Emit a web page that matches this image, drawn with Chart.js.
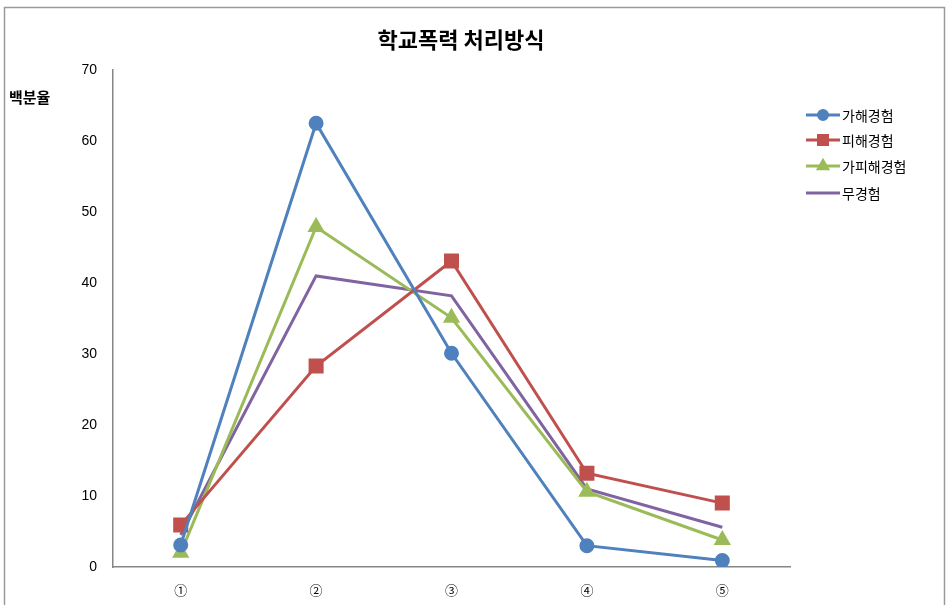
<!DOCTYPE html>
<html>
<head>
<meta charset="utf-8">
<script src="https://cdn.jsdelivr.net/npm/chart.js@4"></script>
<style>
  html, body { margin: 0; padding: 0; background: #fff; }
  #wrap { width: 946px; height: 605px; position: relative; }
</style>
</head>
<body>
<div id="wrap"><canvas id="lineChart"></canvas></div>
<script>
const categories = ['①', '②', '③', '④', '⑤'];
const seriesNames = ['가해경험', '피해경험', '가피해경험', '무경험'];
const gahae = [3.1, 62.5, 30.1, 3.0, 0.9];
const pihae = [5.9, 28.3, 43.1, 13.2, 9.0];
const gapihae = [2.0, 47.9, 35.1, 10.6, 3.8];
const mugyeong = [4.5, 41.0, 38.2, 11.0, 5.6];
const yTicks = [0, 10, 20, 30, 40, 50, 60, 70];

const colors = ['#4F81BD', '#C0504D', '#9BBB59', '#8064A2'];
const markers = ['circle', 'rect', 'triangle', false];
const radii = [6, 8.5, 7, 0];
const values = [gahae, pihae, gapihae, mugyeong];

const datasets = seriesNames.map((name, i) => ({
  label: name,
  data: values[i],
  borderColor: colors[i],
  backgroundColor: colors[i],
  borderWidth: 3,
  pointStyle: markers[i],
  pointRadius: radii[i],
  pointHoverRadius: radii[i],
  tension: 0
}));

const KFONT = '"Noto Sans CJK KR", "Noto Sans", sans-serif';

// frame, title, y-axis caption and legend
const decorPlugin = {
  id: 'decorPlugin',
  afterDraw(chart) {
    const { ctx } = chart;
    ctx.save();
    ctx.strokeStyle = '#9a9a9a';
    ctx.lineWidth = 1.5;
    ctx.beginPath();
    ctx.moveTo(4.5, 605);
    ctx.lineTo(4.5, 7.5);
    ctx.lineTo(944.5, 7.5);
    ctx.lineTo(944.5, 605);
    ctx.stroke();

    ctx.fillStyle = '#000';
    ctx.textAlign = 'center';
    ctx.textBaseline = 'middle';
    ctx.font = 'bold 22px ' + KFONT;
    ctx.fillText('학교폭력 처리방식', 461, 40);

    ctx.textAlign = 'left';
    ctx.font = 'bold 15px ' + KFONT;
    ctx.fillText('백분율', 9, 97);

    ctx.font = '14px ' + KFONT;
    const ys = [115, 140, 166, 193];
    chart.data.datasets.forEach((ds, i) => {
      const y = ys[i];
      ctx.strokeStyle = ds.borderColor;
      ctx.lineWidth = 3;
      ctx.beginPath();
      ctx.moveTo(806, y);
      ctx.lineTo(840, y);
      ctx.stroke();
      if (ds.pointStyle) {
        Chart.helpers.drawPoint(ctx, {
          pointStyle: ds.pointStyle,
          radius: ds.pointRadius * 0.75,
          borderWidth: 1
        }, 823, y);
        ctx.fillStyle = ds.backgroundColor;
        ctx.fill();
      }
      ctx.fillStyle = '#000';
      ctx.fillText(ds.label, 842, y + 1);
    });
    ctx.restore();
  }
};

new Chart(document.getElementById('lineChart'), {
  type: 'line',
  data: { labels: categories, datasets },
  options: {
    responsive: true,
    maintainAspectRatio: false,
    animation: false,
    layout: { padding: { left: 13, top: 70, right: 156, bottom: 0 } },
    plugins: {
      legend: { display: false },
      title: { display: false },
      tooltip: { enabled: false }
    },
    scales: {
      x: {
        offset: true,
        grid: { display: false },
        border: { color: '#868686', width: 1.5 },
        ticks: { color: '#000', font: { size: 13, family: KFONT }, padding: 7 },
        afterFit(s) { s.height = 38; }
      },
      y: {
        min: 0,
        max: 70,
        afterBuildTicks(s) { s.ticks = yTicks.map(v => ({ value: v })); },
        grid: { display: false },
        border: { color: '#868686', width: 1.5 },
        ticks: { color: '#000', font: { size: 14, family: '"Liberation Sans", Arial, sans-serif' }, padding: 8 },
        afterFit(s) { s.width = 100; }
      }
    }
  },
  plugins: [decorPlugin]
});
</script>
</body>
</html>
